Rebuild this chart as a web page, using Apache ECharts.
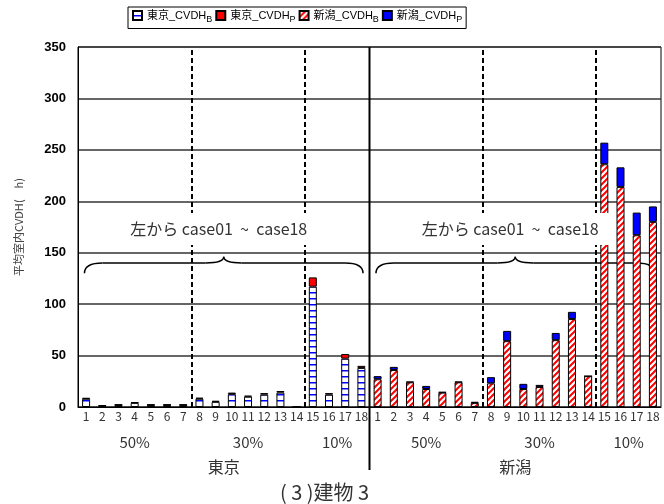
<!DOCTYPE html>
<html>
<head>
<meta charset="utf-8">
<script src="https://cdn.jsdelivr.net/npm/echarts@6/dist/echarts.min.js"></script>
<style>
  html, body { margin: 0; padding: 0; background: #fff; }
  #chart { width: 664px; height: 504px; }
</style>
</head>
<body>
<div id="chart"></div>
<script>
// 値は図から読み取り
const cities = ['東京', '新潟'];
const cases = ['1', '2', '3', '4', '5', '6', '7', '8', '9', '10', '11', '12', '13', '14', '15', '16', '17', '18'];
const tokyoB = [8, 1.2, 2, 4, 2, 2, 2, 8, 5, 12.5, 10, 12, 14, 0, 117, 12, 47, 38];
const tokyoP = [0.8, 0.4, 0.4, 0.6, 0.4, 0.4, 0.4, 1, 1, 1.5, 1, 1.5, 1.5, 0, 9, 1.5, 4.5, 2];
const niigataB = [27, 36, 24, 17.5, 14, 24, 4, 23, 64, 17.5, 19.5, 65, 85.5, 30, 236, 214, 167, 180];
const niigataP = [3, 3, 0.6, 3, 0.6, 0.6, 1, 6, 10, 5, 2, 7, 7, 0, 21, 19, 22, 15];
const groupLabels = ['50%', '30%', '10%'];
const groupRanges = [[0, 7], [7, 14], [14, 18]];

const FONT = '"Noto Sans CJK JP", "Noto Sans", sans-serif';
const LEGEND_FONT = '"Liberation Sans", "Noto Sans CJK JP", sans-serif';

const categories = [];
cities.forEach((c) => cases.forEach((n) => categories.push(c + '-' + n)));
const pad = new Array(cases.length).fill(null);

// 模様
function gridPattern() {
  const c = document.createElement('canvas');
  c.width = 8; c.height = 6;
  const ctx = c.getContext('2d');
  ctx.fillStyle = '#fff';
  ctx.fillRect(0, 0, 8, 6);
  ctx.fillStyle = '#0000ff';
  ctx.fillRect(0, 4, 8, 1.5);
  return c;
}
function stripePattern() {
  const c = document.createElement('canvas');
  c.width = 6; c.height = 6;
  const ctx = c.getContext('2d');
  ctx.fillStyle = '#fff';
  ctx.fillRect(0, 0, 6, 6);
  ctx.strokeStyle = '#ff0000';
  ctx.lineWidth = 2;
  ctx.beginPath();
  ctx.moveTo(-1, 7); ctx.lineTo(7, -1);
  ctx.moveTo(-4, 4); ctx.lineTo(4, -4);
  ctx.moveTo(2, 10); ctx.lineTo(10, 2);
  ctx.stroke();
  return c;
}

const barBase = {
  type: 'bar',
  stack: 'all',
  barWidth: 8,
  xAxisIndex: 0,
  itemStyle: { borderColor: '#000', borderWidth: 1 },
};

const chart = echarts.init(document.getElementById('chart'));

const options = {
  animation: false,
  grid: { left: 78, right: 3, top: 47, bottom: 97, show: true, borderColor: '#000', borderWidth: 1 },
  legend: {
    top: 7,
    left: 128,
    icon: 'rect',
    borderColor: '#000',
    borderWidth: 1,
    borderRadius: 0,
    padding: [3, 4, 4, 4],
    itemWidth: 9,
    itemHeight: 9,
    itemGap: 3,
    textStyle: {
      fontSize: 11,
      fontFamily: LEGEND_FONT,
      color: '#000',
      rich: { s: { fontSize: 9, fontFamily: LEGEND_FONT, padding: [9, 0, 0, 0] } },
    },
    formatter: (n) => n.replace(/_([BP])$/, '{s|$1}'),
    data: ['東京_CVDH_B', '東京_CVDH_P', '新潟_CVDH_B', '新潟_CVDH_P'],
  },
  xAxis: [
    {
      type: 'category',
      data: categories,
      axisLine: { lineStyle: { color: '#000' } },
      axisTick: { show: false },
      axisLabel: {
        interval: 0,
        margin: 3,
        fontSize: 12,
        fontFamily: FONT,
        color: '#333',
        formatter: (v) => v.split('-')[1],
      },
    },
    { type: 'value', min: 0, max: 36, show: false },
  ],
  yAxis: {
    type: 'value',
    min: 0,
    max: 350,
    interval: 50,
    name: '平均室内CVDH(　h)',
    nameLocation: 'middle',
    nameGap: 54,
    nameTextStyle: { fontSize: 11, fontFamily: FONT, color: '#444' },
    axisLine: { show: true, lineStyle: { color: '#000' } },
    axisTick: { show: false },
    axisLabel: { fontSize: 13, fontWeight: 'bold', fontFamily: '"Liberation Sans", Arial, sans-serif', color: '#000', margin: 12 },
    splitLine: { lineStyle: { color: '#333', width: 1.5 } },
  },
  series: [
    { ...barBase, name: '東京_CVDH_B', color: { image: gridPattern(), repeat: 'repeat' }, data: [...tokyoB, ...pad] },
    { ...barBase, name: '東京_CVDH_P', color: '#ff0000', data: [...tokyoP, ...pad] },
    { ...barBase, name: '新潟_CVDH_B', color: { image: stripePattern(), repeat: 'repeat' }, data: [...pad, ...niigataB] },
    { ...barBase, name: '新潟_CVDH_P', color: '#0000ff', data: [...pad, ...niigataP] },
    {
      type: 'line',
      xAxisIndex: 1,
      data: [],
      silent: true,
      markLine: {
        symbol: 'none',
        silent: true,
        label: { show: false },
        lineStyle: { type: [5, 3], color: '#000', width: 2 },
        data: [{ xAxis: 7 }, { xAxis: 14 }, { xAxis: 25 }, { xAxis: 32 }],
      },
    },
  ],
};

chart.setOption(options);

// 注記
const px = (v) => chart.convertToPixel({ xAxisIndex: 1 }, v);
const py = (v) => chart.convertToPixel({ yAxisIndex: 0 }, v);
const baseY = py(0);
const topY = py(350);
const braceStyle = { fill: null, stroke: '#000', lineWidth: 1.5 };

function brace(x0, x1, yEnd, yTop, yCusp) {
  const xm = (x0 + x1) / 2;
  const r = 18;
  const curve = (ax, ay, cx, cy, bx, by) => ({
    type: 'bezierCurve',
    shape: { x1: ax, y1: ay, cpx1: cx, cpy1: cy, x2: bx, y2: by },
    style: braceStyle,
  });
  const line = (ax, bx) => ({
    type: 'line',
    shape: { x1: ax, y1: yTop, x2: bx, y2: yTop },
    style: braceStyle,
  });
  return [
    curve(x0, yEnd, x0, yTop, x0 + r, yTop),
    line(x0 + r, xm - r),
    curve(xm - r, yTop, xm, yTop, xm, yCusp),
    curve(xm, yCusp, xm, yTop, xm + r, yTop),
    line(xm + r, x1 - r),
    curve(x1 - r, yTop, x1, yTop, x1, yEnd),
  ];
}

const graphics = [];
cities.forEach((city, k) => {
  const off = k * 18;
  const x0 = px(off + 0.4);
  const x1 = px(off + 17.6);
  graphics.push(...brace(x0, x1, py(130), py(140), py(146)));
  graphics.push({
    type: 'text',
    z: 100,
    x: (x0 + x1) / 2 - 4,
    y: py(173),
    style: {
      text: '左から case01  ~  case18',
      font: '16px ' + FONT,
      fill: '#333',
      align: 'center',
      verticalAlign: 'middle',
      backgroundColor: '#fff',
      padding: [8, 12, 8, 10],
    },
  });
  groupLabels.forEach((g, i) => {
    const [a, b] = groupRanges[i];
    graphics.push({
      type: 'text',
      x: px(off + (a + b) / 2),
      y: baseY + 35,
      style: { text: g, font: '15px ' + FONT, fill: '#333', align: 'center', verticalAlign: 'middle' },
    });
  });
  graphics.push({
    type: 'text',
    x: px(off + 9),
    y: baseY + 60,
    style: { text: city, font: '16px ' + FONT, fill: '#333', align: 'center', verticalAlign: 'middle' },
  });
});
graphics.push({
  type: 'line',
  z: 100,
  shape: { x1: px(18), y1: topY, x2: px(18), y2: baseY + 63 },
  style: { stroke: '#000', lineWidth: 2 },
});
graphics.push({
  type: 'text',
  x: px(18) - 45,
  y: baseY + 85,
  style: { text: '( 3 )建物 3', font: '20px ' + FONT, fill: '#333', align: 'center', verticalAlign: 'middle' },
});

chart.setOption({ graphic: graphics });
</script>
</body>
</html>
